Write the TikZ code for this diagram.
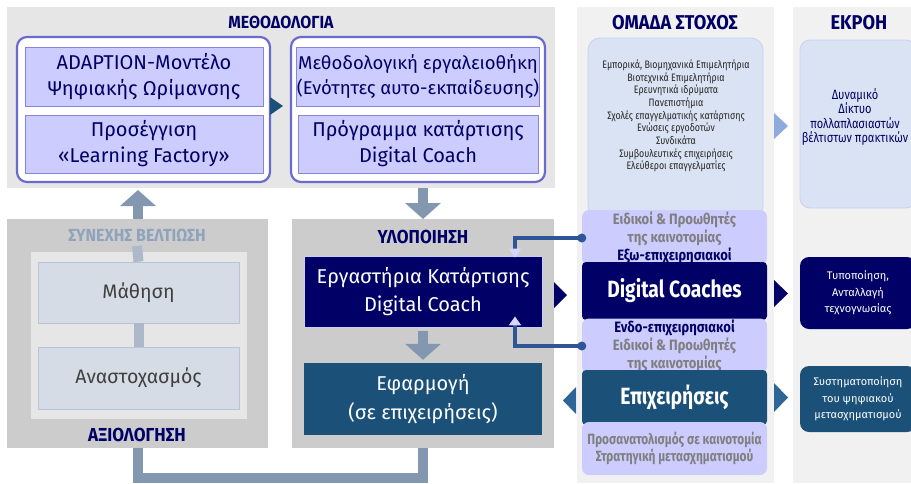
\documentclass[tikz,border=0pt]{standalone}
\usepackage{fontspec}
\setmainfont{Fira Sans}
\newfontfamily\cond{Fira Sans}[FakeStretch=0.82]
\newfontfamily\condt{Fira Sans}[FakeStretch=0.91]
\newfontfamily\condl{Fira Sans}[FakeStretch=0.87]
\newfontfamily\condm{Fira Sans}[FakeStretch=0.80]
\usetikzlibrary{arrows.meta}
\definecolor{navy}{HTML}{000066}
\definecolor{tealc}{HTML}{1B5179}
\definecolor{lav}{HTML}{CCCCFF}
\definecolor{lavline}{HTML}{8585E0}
\definecolor{roundline}{HTML}{6A6AD0}
\definecolor{panlight}{HTML}{E6E6E6}
\definecolor{pandark}{HTML}{CCCCCC}
\definecolor{panright}{HTML}{F1F1F1}
\definecolor{grayblue}{HTML}{8497B0}
\definecolor{barlight}{HTML}{ADB9CA}
\definecolor{boxgray}{HTML}{D6DCE5}
\definecolor{boxgrayline}{HTML}{B8C4D6}
\definecolor{listbox}{HTML}{DAE3F3}
\definecolor{listline}{HTML}{C8D0F4}
\definecolor{linkblue}{HTML}{2F5597}
\definecolor{lightarrow}{HTML}{8FAADC}
\definecolor{tealarrow}{HTML}{2F6496}
\definecolor{subtitle}{HTML}{8FA3BD}
\definecolor{lavtext}{HTML}{7F7F7F}
\tikzset{
  titletext/.style={font=\condt\bfseries\fontsize{17.5}{20}\selectfont, text=navy, inner sep=0pt},
  bigtitle/.style={titletext, font=\condt\bfseries\fontsize{20}{22}\selectfont},
  midtitle/.style={titletext, font=\condt\bfseries\fontsize{18.8}{22}\selectfont},
  roundbox/.style={draw=roundline, line width=2.2pt, fill=white, rounded corners=10pt, inner sep=0pt},
  methbox/.style={draw=lavline, line width=0.8pt, fill=lav, inner sep=0pt, text=navy, align=center,
     font=\fontsize{20}{26}\selectfont},
  learnbox/.style={draw=boxgrayline, line width=0.8pt, fill=boxgray, inner sep=0pt, text=black!75, align=center,
     font=\fontsize{19.5}{24}\selectfont},
  darkbox/.style={fill=#1, inner sep=0pt, text=white, align=center, font=\fontsize{20}{28}\selectfont},
  lavbox/.style={fill=lav, rounded corners=7pt, inner sep=0pt, text=lavtext, align=center,
     font=\condl\bfseries\fontsize{15}{18}\selectfont},
  bigbox/.style={fill=#1, rounded corners=4pt, inner sep=0pt, text=white, align=center,
     font=\cond\bfseries\fontsize{23.5}{26}\selectfont},
  outbox/.style={fill=#1, rounded corners=9pt, inner sep=0pt, text=white, align=center,
     font=\fontsize{11}{16.5}\selectfont},
  fatarrow/.style={draw=grayblue, line width=10pt, -{Triangle[width=35pt,length=16pt]}},
  fatline/.style={draw=grayblue, line width=10pt},
  linkline/.style={draw=linkblue, line width=3.5pt, -{Triangle[width=12pt,length=9pt,color=lav!80!white,fill=lav!80!white]}},
}
\begin{document}
\begin{tikzpicture}[x=1pt, y=-1pt]
\useasboundingbox (0,0) rectangle (911,483);
\fill[white] (0,0) rectangle (911,483);

% ---------- panels ----------
\fill[panlight] (7,7) rectangle (555,188);
\coordinate (methS1) at (138,188);
\coordinate (methS2) at (423,188);
\node[titletext] (tmeth) at (281,22) {ΜΕΘΟΔΟΛΟΓΙΑ};

\fill[pandark] (7,219) rectangle (268,448);
\coordinate (evalN) at (138,219);
\coordinate (evalS) at (138,448);
\fill[panlight] (31,252) rectangle (247,419);
\node[titletext, text=subtitle] (tsyn) at (137,235) {ΣΥΝΕΧΗΣ ΒΕΛΤΙΩΣΗ};
\node[midtitle] (taxi) at (137,435) {ΑΞΙΟΛΟΓΗΣΗ};

\fill[pandark] (292,219) rectangle (554,448);
\coordinate (implN) at (423,219);
\coordinate (implS) at (423,448);
\node[midtitle] (tylo) at (423,237) {ΥΛΟΠΟΙΗΣΗ};

\fill[panright] (577,7) rectangle (774,483);
\node[bigtitle] (tomada) at (675,23) {ΟΜΑΔΑ ΣΤΟΧΟΣ};
\fill[panright] (793,7) rectangle (925,483);
\node[bigtitle] (tekroi) at (859,23) {ΕΚΡΟΗ};

% ---------- methodology ----------
\node[roundbox, minimum width=253pt, minimum height=145pt] (leftround) at (143.5,109.5) {};
\node[roundbox, minimum width=254pt, minimum height=145pt] (midround) at (418,109.5) {};
\node[methbox, minimum width=238pt, minimum height=59pt] (adapt) at (144,76.5)
  {ADAPTION-Μοντέλο\\Ψηφιακής Ωρίμανσης};
\node[methbox, minimum width=238pt, minimum height=58pt] (lf) at (144,144)
  {Προσέγγιση\\«Learning Factory»};
\node[methbox, minimum width=240pt, minimum height=59pt, font=\fontsize{18.5}{25}\selectfont] (toolkit) at (418,76.5)
  {Μεθοδολογική εργαλειοθήκη\\(Ενότητες αυτο-εκπαίδευσης)};
\node[methbox, minimum width=240pt, minimum height=58pt] (prog) at (418,144)
  {Πρόγραμμα κατάρτισης\\Digital Coach};
\fill[tealc] (270,97) -- (283,106) -- (270,115) -- cycle;

% ---------- evaluation ----------
\node[learnbox, minimum width=201pt, minimum height=61pt] (math) at (138.5,292.5) {Μάθηση};
\node[learnbox, minimum width=201pt, minimum height=62pt] (anast) at (138.5,378) {Αναστοχασμός};
\draw[barlight, line width=10pt] (tsyn.south |- 0,246) -- (math.north);
\draw[barlight, line width=10pt] (math.south) -- (anast.north);

% ---------- implementation ----------
\node[darkbox=navy, draw=lav, line width=0.8pt, minimum width=238pt, minimum height=71pt] (work) at (423,291.5)
  {Εργαστήρια Κατάρτισης\\Digital Coach};
\node[darkbox=tealc, minimum width=238pt, minimum height=72pt, font=\fontsize{20}{29}\selectfont] (apply) at (423,399)
  {Εφαρμογή\\(σε επιχειρήσεις)};
\draw[fatarrow, shorten <=4pt, shorten >=3pt] (work.south) -- (apply.north);

% ---------- big gray arrows ----------
\draw[fatarrow] (evalN) -- ([yshift=-2pt]methS1);
\draw[fatarrow] (methS2) -- (implN);
\draw[fatline] (evalS) -- (138,478) -- (423,478) -- (implS);

% ---------- target group ----------
\node[draw=listline, line width=0.8pt, fill=listbox, rounded corners=12pt, minimum width=175pt, minimum height=180pt,
      inner sep=0pt] (listbox) at (675.5,128) {};
\node[align=center, text=black!85, font=\cond\fontsize{10.8}{12.7}\selectfont, inner sep=0pt] (listtext) at (676,116)
  {Εμπορικά, Βιομηχανικά Επιμελητήρια\\Βιοτεχνικά Επιμελητήρια\\Ερευνητικά ιδρύματα\\Πανεπιστήμια\\
   Σχολές επαγγελματικής κατάρτισης\\Ενώσεις εργοδοτών\\Συνδικάτα\\Συμβουλευτικές επιχειρήσεις\\Ελεύθεροι επαγγελματίες};

\node[lavbox, minimum width=185pt, minimum height=55pt] (exp1) at (674.5,237.5)
  {Ειδικοί \& Προωθητές\\της καινοτομίας\\\textcolor{navy}{Εξω-επιχειρησιακοί}};
\node[bigbox=navy, minimum width=185pt, minimum height=58pt] (dc) at (674.5,291) {Digital Coaches};
\node[lavbox, minimum width=185pt, minimum height=55pt] (exp2) at (674.5,346)
  {\textcolor{navy}{Ενδο-επιχειρησιακοί}\\Ειδικοί \& Προωθητές\\της καινοτομίας};
\node[bigbox=tealc, minimum width=185pt, minimum height=55pt] (biz) at (674.5,397.5) {Επιχειρήσεις};
\node[lavbox, minimum width=185pt, minimum height=53pt, font=\condm\bfseries\fontsize{14.8}{17}\selectfont] (strat) at (674.5,448.5)
  {Προσανατολισμός σε καινοτομία\\Στρατηγική μετασχηματισμού};

% ---------- output ----------
\node[draw=listline, line width=0.8pt, fill=listbox, rounded corners=10pt, minimum width=116pt, minimum height=168pt,
      inner sep=0pt] (out1) at (858,124) {};
\node[align=center, text=navy, font=\cond\fontsize{13.5}{14.3}\selectfont, inner sep=0pt] (out1text) at (855,117)
  {Δυναμικό\\Δίκτυο\\πολλαπλασιαστών\\βέλτιστων πρακτικών};
\node[outbox=navy, minimum width=116pt, minimum height=72pt] (out2) at (858,293)
  {Τυποποίηση,\\Ανταλλαγή\\τεχνογνωσίας};
\node[outbox=tealc, minimum width=116pt, minimum height=66pt] (out3) at (858,399)
  {Συστηματοποίηση\\του ψηφιακού\\μετασχηματισμού};

% ---------- triangles ----------
\fill[navy] (554,282) -- (567,295) -- (554,308) -- cycle;
\fill[tealarrow] (576,387) -- (563,400.5) -- (576,414) -- cycle;
\fill[lightarrow] (774,113) -- (788,126) -- (774,139) -- cycle;
\fill[navy] (774,280) -- (788,293.5) -- (774,307) -- cycle;
\fill[tealarrow] (774,383) -- (788,397.5) -- (774,412) -- cycle;

% ---------- links ----------
\coordinate (d1) at (exp1.west |- 0,238);
\coordinate (d2) at (exp2.west |- 0,346);
\draw[linkline] (d1) -- (515,238) -- ([yshift=-2pt]work.north -| 515,0);
\draw[linkline] (d2) -- (515,346) -- ([yshift=11pt]work.south -| 515,0);
\fill[linkblue] (d1) circle (4.5pt);
\fill[linkblue] (d2) circle (4.5pt);
\end{tikzpicture}
\end{document}
